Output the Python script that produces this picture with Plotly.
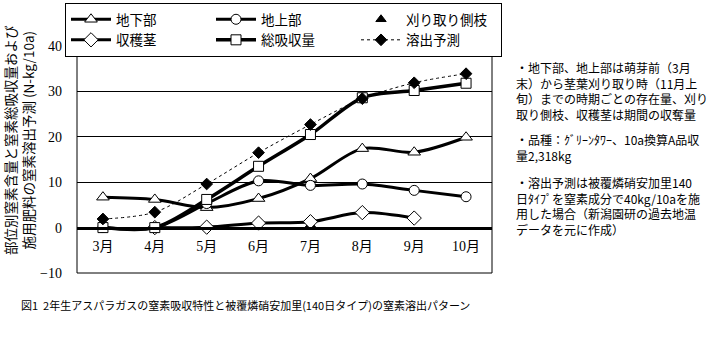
import plotly.graph_objects as go

months = ["3月", "4月", "5月", "6月", "7月", "8月", "9月", "10月"]
underground = [6.7, 6.2, 4.4, 6.4, 10.8, 17.4, 16.6, 19.9]          # 地下部
aboveground = [0, 0, 5.3, 10.3, 9.3, 9.6, 8.2, 6.8]                # 地上部
side_branch = [None, None, None, None, 0.6, None, None, None]      # 刈り取り側枝
harvest = [None, 0, 0.1, 1.0, 1.3, 3.3, 2.1, None]                 # 収穫茎
total_uptake = [0, 0, 6.2, 13.5, 20.5, 28.6, 30.2, 31.8]           # 総吸収量
release = [1.9, 3.4, 9.6, 16.5, 22.7, 28.4, 31.9, 33.9]            # 溶出予測
y_ticks = [-10, 0, 10, 20, 30, 40]

JP = "Noto Sans CJK JP"
SERIF = "Liberation Serif, Noto Sans CJK JP"

fig = go.Figure()

def line_trace(name, vals, symbol, size, filled=False, width=3, dash="solid", mode="lines+markers"):
    return go.Scatter(
        x=months, y=vals, name=name, mode=mode,
        line=dict(color="black", width=width, dash=dash, shape="spline", smoothing=0.9),
        marker=dict(symbol=symbol, size=size, color="black" if filled else "white",
                    line=dict(color="black", width=1)),
        connectgaps=False,
    )

fig.add_trace(line_trace("地下部", underground, "triangle-up", 11))
fig.add_trace(line_trace("地上部", aboveground, "circle", 10))
fig.add_trace(line_trace("刈り取り側枝", side_branch, "triangle-up", 9, filled=True, mode="markers"))
fig.add_trace(line_trace("収穫茎", harvest, "diamond", 11))
fig.add_trace(line_trace("総吸収量", total_uptake, "square", 10, width=3.5))
fig.add_trace(line_trace("溶出予測", release, "diamond", 9, filled=True, width=1, dash="dot"))

L, R, T, B = 77, 222, 46, 69
W, H = 714, 342
pw, ph = W - L - R, H - T - B

def px_x(p):
    return (p - L) / pw

def px_y(p):
    return (H - B - p) / ph

fig.update_layout(
    width=W, height=H,
    margin=dict(l=L, r=R, t=T, b=B, autoexpand=False),
    paper_bgcolor="white", plot_bgcolor="white",
    showlegend=True,
    legend=dict(
        orientation="h", x=px_x(65), y=px_y(3), xanchor="left", yanchor="top",
        entrywidth=90, entrywidthmode="pixels", itemwidth=40,
        bordercolor="black", borderwidth=1, bgcolor="white",
        font=dict(family=JP, size=13.5, color="black"),
        tracegroupgap=0, traceorder="normal",
    ),
    xaxis=dict(
        type="category", range=[-0.5, 7.5], anchor="free", position=0.2,
        showline=True, linecolor="black", linewidth=3,
        showgrid=False, zeroline=False, ticks="",
        tickfont=dict(family=SERIF, size=14, color="black"),
        ticklabelstandoff=5,
    ),
    yaxis=dict(
        range=[-10, 40], tickvals=y_ticks, showgrid=True, gridcolor="black", gridwidth=1,
        zeroline=False, showline=False, ticks="",
        tickfont=dict(family=SERIF, size=14, color="black"),
        ticklabelstandoff=14,
    ),
)

# plot border
fig.add_shape(type="rect", xref="paper", yref="paper", x0=0, y0=0, x1=1, y1=1,
              line=dict(color="black", width=1), fillcolor="rgba(0,0,0,0)", layer="above")

# y-axis title
fig.add_annotation(
    text="部位別窒素含量と窒素総吸収量および<br>施用肥料の窒素溶出予測 (N-kg/10a)",
    xref="paper", yref="paper", x=px_x(19), y=px_y(140), textangle=-90,
    showarrow=False, xanchor="center", yanchor="middle",
    font=dict(family=JP, size=13.5, color="black"),
)

# caption
fig.add_annotation(
    text="図1  2年生アスパラガスの窒素吸収特性と被覆燐硝安加里(140日タイプ)の窒素溶出パターン",
    xref="paper", yref="paper", x=px_x(19), y=px_y(305), showarrow=False,
    xanchor="left", yanchor="middle", font=dict(family=JP, size=11, color="black"),
)

# notes on the right (one block per paragraph)
notes = [
    ("・地下部、地上部は萌芽前（3月<br>末）から茎葉刈り取り時（11月上<br>"
     "旬）までの時期ごとの存在量、刈り<br>取り側枝、収穫茎は期間の収奪量", 57),
    ("・品種：ｸﾞﾘｰﾝﾀﾜｰ、10a換算A品収<br>量2,318kg", 129),
    ("・溶出予測は被覆燐硝安加里140<br>日ﾀｲﾌﾟを窒素成分で40kg/10aを施<br>"
     "用した場合（新潟園研の過去地温<br>データを元に作成）", 172),
]
for txt, ytop in notes:
    fig.add_annotation(
        text=txt, xref="paper", yref="paper", x=px_x(514), y=px_y(ytop),
        showarrow=False, xanchor="left", yanchor="top", align="left",
        font=dict(family=JP, size=12, color="black"),
    )

fig.write_html("out.html")
